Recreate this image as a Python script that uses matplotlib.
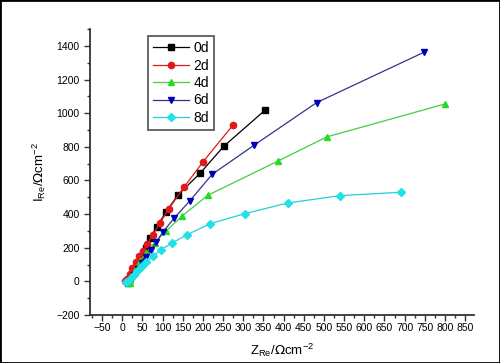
import matplotlib
matplotlib.use("Agg")
import matplotlib.pyplot as plt
from matplotlib.patches import Rectangle
from matplotlib.ticker import MultipleLocator

plt.rcParams['font.family'] = ['Liberation Sans', 'DejaVu Sans']

x_0d = [15, 20, 30, 40, 50, 60, 69, 85, 108, 138, 193, 252, 354]
y_0d = [-12, 20, 60, 100, 150, 200, 260, 323, 411, 514, 643, 804, 1018]

x_2d = [8, 12, 18, 25, 33, 42, 51, 62, 75, 93, 115, 153, 200, 274]
y_2d = [0, 15, 45, 80, 115, 149, 182, 224, 274, 345, 431, 560, 710, 928]

x_4d = [18, 20, 25, 35, 45, 60, 80, 108, 148, 212, 385, 507, 799]
y_4d = [-10, 10, 40, 80, 120, 170, 230, 298, 388, 512, 714, 859, 1054]

x_6d = [15, 20, 28, 38, 48, 59, 72, 84, 100, 129, 167, 223, 327, 482, 747]
y_6d = [-5, 10, 40, 75, 110, 145, 185, 234, 292, 377, 478, 637, 810, 1063, 1361]

x_8d = [10, 15, 22, 30, 38, 48, 59, 77, 96, 123, 161, 218, 304, 410, 540, 691]
y_8d = [-5, 5, 20, 40, 65, 90, 115, 149, 189, 228, 278, 343, 403, 466, 510, 530]

labels = ['0d', '2d', '4d', '6d', '8d']

fig = plt.figure(figsize=(5, 3.63), dpi=100)
ax = fig.add_axes([0.18, 0.132, 0.768, 0.788])

series = [
    (x_0d, y_0d, 's', '#000000', '#000000', 4.2),
    (x_2d, y_2d, 'o', '#e01818', '#e01818', 4.5),
    (x_4d, y_4d, '^', '#22dd22', '#44cc44', 5.0),
    (x_6d, y_6d, 'v', '#0000bb', '#333388', 5.0),
    (x_8d, y_8d, 'D', '#22e0e8', '#22d0d8', 4.2),
]
for (xs, ys, m, mc, lc, ms), lab in zip(series, labels):
    ax.plot(xs, ys, color=lc, lw=0.9, marker=m, markersize=ms,
            markerfacecolor=mc, markeredgecolor=mc, label=lab)

ax.set_xlim(-80, 872)
ax.set_ylim(-200, 1500)
ax.xaxis.set_major_locator(MultipleLocator(50))
ax.xaxis.set_minor_locator(MultipleLocator(25))
ax.yaxis.set_major_locator(MultipleLocator(200))
ax.yaxis.set_minor_locator(MultipleLocator(100))
ax.set_xticks(range(-50, 851, 50))
ax.set_yticks(range(-200, 1401, 200))
ax.tick_params(which='both', direction='out', labelsize=7.5, width=1.0, color='#333333')
ax.tick_params(which='major', length=4)
ax.tick_params(which='minor', length=2.5)
ax.tick_params(axis='x', pad=2)

for s in ['top', 'right']:
    ax.spines[s].set_visible(False)
for s in ['left', 'bottom']:
    ax.spines[s].set_linewidth(1.3)
    ax.spines[s].set_color('#333333')

ax.set_xlabel(r'Z$_{\mathregular{Re}}$/$\Omega$cm$^{\mathregular{-2}}$', fontsize=9.5, labelpad=6)
ax.set_ylabel(r'I$_{\mathregular{Re}}$/$\Omega$cm$^{\mathregular{-2}}$', fontsize=9.5, labelpad=6)

leg = ax.legend(loc='upper left', bbox_to_anchor=(0.152, 0.975), fontsize=10,
                frameon=True, fancybox=False, edgecolor='#333333',
                handlelength=2.6, handletextpad=0.3, labelspacing=0.25,
                borderpad=0.35, borderaxespad=0)
leg.get_frame().set_linewidth(1.3)

fig.patches.append(Rectangle((0, 0), 1, 1, transform=fig.transFigure,
                             fill=False, edgecolor='black', linewidth=2))

fig.savefig('out.png', dpi=100)
